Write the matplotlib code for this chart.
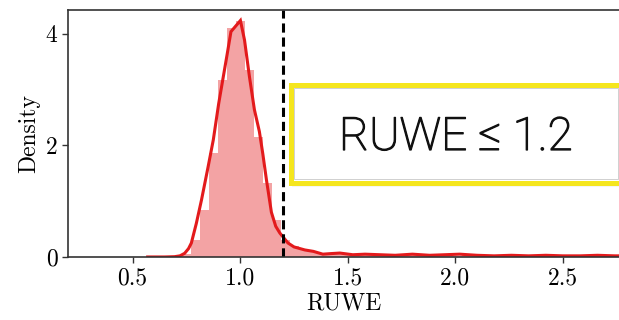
import matplotlib
matplotlib.use("Agg")
import matplotlib.pyplot as plt
import matplotlib.patheffects as pe
import numpy as np
from matplotlib.patches import Rectangle

# histogram of RUWE (density), regular bins
bin_start = 0.560
bin_width = 0.042
hist_density = [0.0, 0.0, 0.003, 0.01, 0.05, 0.30, 0.84, 1.86, 3.17, 4.10,
                4.23, 3.35, 2.15, 1.33, 0.66, 0.30, 0.20, 0.13, 0.10, 0.07,
                0.06, 0.07, 0.05, 0.04, 0.05, 0.04, 0.03, 0.05, 0.04, 0.03,
                0.04, 0.05, 0.03, 0.03, 0.02, 0.03, 0.02, 0.03, 0.02, 0.02,
                0.03, 0.02, 0.02, 0.02, 0.03, 0.02, 0.02, 0.02, 0.02, 0.02,
                0.02, 0.02, 0.02, 0.02, 0.02]

# kde curve
kde_x = [0.57, 0.65, 0.695, 0.72, 0.742, 0.76, 0.773, 0.796, 0.82, 0.85,
         0.875, 0.90, 0.92, 0.94, 0.957, 1.001, 1.02, 1.043, 1.066, 1.089,
         1.105, 1.122, 1.145, 1.165, 1.184, 1.205, 1.222, 1.25, 1.30, 1.34,
         1.384, 1.42, 1.463, 1.523, 1.58, 1.65, 1.72, 1.80, 1.88, 1.95,
         2.02, 2.10, 2.18, 2.26, 2.34, 2.42, 2.50, 2.58, 2.66, 2.74, 2.80]
kde_y = [0.0, 0.0, 0.005, 0.02, 0.066, 0.15, 0.25, 0.6, 1.02, 1.6,
         2.1, 2.75, 3.2, 3.65, 4.04, 4.24, 3.89, 3.23, 2.64, 2.25,
         1.85, 1.38, 0.8, 0.55, 0.43, 0.33, 0.25, 0.18, 0.126, 0.10,
         0.05, 0.06, 0.07, 0.04, 0.05, 0.04, 0.03, 0.05, 0.03, 0.04,
         0.05, 0.03, 0.02, 0.03, 0.02, 0.03, 0.02, 0.02, 0.03, 0.02, 0.02]

ruwe_cut = 1.2
box_label = "RUWE \u2264 1.2"

red = "#e31a1c"

plt.rcParams["font.family"] = "cmr10"
plt.rcParams["axes.formatter.use_mathtext"] = True

fig = plt.figure(figsize=(6.19, 3.2), dpi=100)
ax = fig.add_axes([0.1099, 0.197, 1.0 - 0.1099, 0.772])

edges = bin_start + bin_width * np.arange(len(hist_density))
ax.bar(edges, hist_density, width=bin_width, align="edge",
       color=red, alpha=0.4, linewidth=0)
ax.plot(kde_x, kde_y, color=red, lw=2.2, solid_joinstyle="miter")
ax.axvline(ruwe_cut, color="black", lw=2.2, ls=(0, (3, 1.6)))

ax.set_xlim(0.2, 2.76)
ax.set_ylim(0, 4.43)
ax.set_xticks([0.5, 1.0, 1.5, 2.0, 2.5])
ax.set_xticklabels(["0.5", "1.0", "1.5", "2.0", "2.5"])
ax.set_yticks([0, 2, 4])
ax.set_yticklabels(["0", "2", "4"])
ax.set_xlabel("RUWE", fontsize=17, labelpad=2)
ax.set_ylabel("Density", fontsize=17, labelpad=4)
ax.tick_params(labelsize=17, length=4, width=1, color="#333333")
for s in ["left", "bottom", "top"]:
    ax.spines[s].set_color("#333333")
    ax.spines[s].set_linewidth(1.2)
ax.spines["right"].set_visible(False)

# highlighted label box (pixel coords of the figure)
W, H = 619.0, 320.0
x0, x1 = 290.5, 621.5
y0, y1 = 320 - 182.5, 320 - 84.5
# soft drop shadow under the box
for off, a in [(4, 0.05), (3, 0.07), (2, 0.09)]:
    fig.patches.append(Rectangle(((x0 + 1) / W, (y0 - off) / H),
                                 (x1 - x0) / W, (y1 - y0) / H,
                                 transform=fig.transFigure,
                                 facecolor="#444444", edgecolor="none",
                                 alpha=a))
fig.patches.append(Rectangle((x0 / W, y0 / H), (x1 - x0) / W, (y1 - y0) / H,
                             transform=fig.transFigure, facecolor="white",
                             edgecolor="#f5e61e", lw=3.6, zorder=5))
fig.patches.append(Rectangle(((x0 + 3.2) / W, (y0 + 3.2) / H),
                             (x1 - x0 - 6.4) / W, (y1 - y0 - 6.4) / H,
                             transform=fig.transFigure, facecolor="none",
                             edgecolor="#d0d0d0", lw=0.7, zorder=6))
fig.text(456 / W, (320 - 137) / H, box_label, fontsize=33,
         family=["Roboto", "DejaVu Sans"], weight="light",
         ha="center", va="center", color="#111111", zorder=7,
         path_effects=[pe.withStroke(linewidth=0.9, foreground="#111111")])

fig.savefig("out.png", dpi=100)
